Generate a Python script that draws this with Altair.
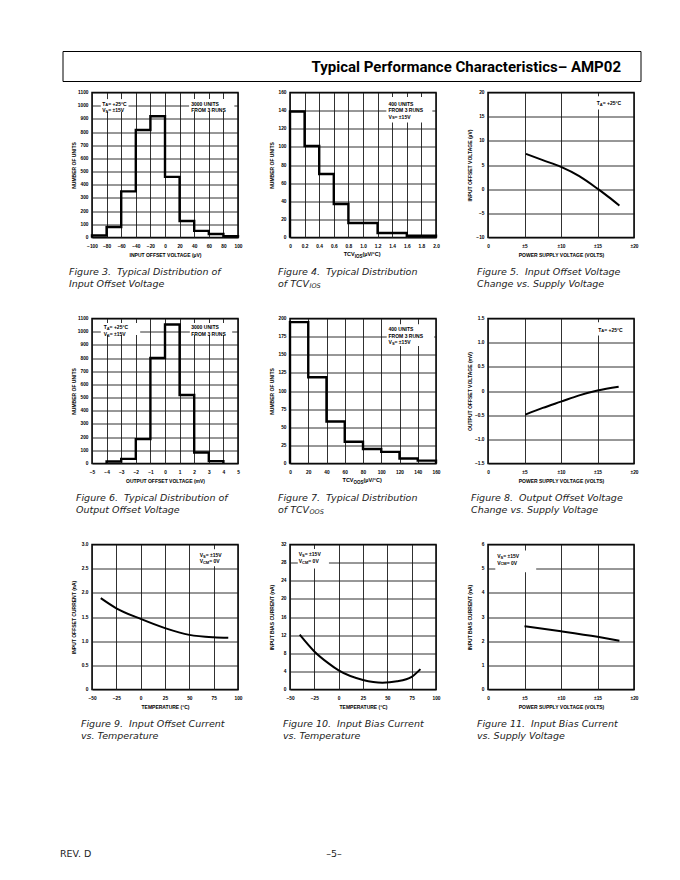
import altair as alt
import pandas as pd

# ---------------- data ----------------
# Figure 3: distribution of input offset voltage (uV)
f3_edges = [-100, -80, -60, -40, -20, 0, 20, 40, 60, 80, 100]
f3_counts = [15, 80, 350, 815, 920, 460, 125, 50, 27, 10]
f3_xticks = [-100, -80, -60, -40, -20, 0, 20, 40, 60, 80, 100]
f3_yticks = [0, 100, 200, 300, 400, 500, 600, 700, 800, 900, 1000, 1100]
# Figure 4: distribution of TCVIOS (uV/C)
f4_edges = [0, 0.2, 0.4, 0.6, 0.8, 1.2, 1.6, 2.0]
f4_counts = [139, 101, 70, 37, 16, 5, 2]
f4_xticks = [0, 0.2, 0.4, 0.6, 0.8, 1.0, 1.2, 1.4, 1.6, 1.8, 2.0]
f4_yticks = [0, 20, 40, 60, 80, 100, 120, 140, 160]
# Figure 5: input offset voltage vs supply
f5_x = [5.2, 7.5, 10, 12.5, 15, 16.5, 18]
f5_y = [7.3, 6.0, 4.6, 2.7, 0.1, -1.6, -3.4]
f5_xticks = [0, 5, 10, 15, 20]
f5_yticks = [-10, -5, 0, 5, 10, 15, 20]
# Figure 6: distribution of output offset voltage (mV)
f6_edges = [-4, -3, -2, -1, 0, 1, 2, 3, 4]
f6_counts = [15, 35, 185, 800, 1054, 520, 84, 18]
f6_xticks = [-5, -4, -3, -2, -1, 0, 1, 2, 3, 4, 5]
f6_yticks = [0, 100, 200, 300, 400, 500, 600, 700, 800, 900, 1000, 1100]
# Figure 7: distribution of TCVOOS (uV/C)
f7_edges = [0, 20, 40, 60, 80, 100, 120, 140, 160]
f7_counts = [195, 119, 58, 30, 20, 16, 7, 4]
f7_xticks = [0, 20, 40, 60, 80, 100, 120, 140, 160]
f7_yticks = [0, 25, 50, 75, 100, 125, 150, 175, 200]
# Figure 8: output offset voltage vs supply
f8_x = [5.1, 7.5, 10, 12.5, 15, 17.9]
f8_y = [-0.49, -0.35, -0.22, -0.09, 0.01, 0.09]
f8_xticks = [0, 5, 10, 15, 20]
f8_yticks = [-1.5, -1.0, -0.5, 0, 0.5, 1.0, 1.5]
# Figure 9: input offset current vs temperature
f9_x = [-41, -25, 0, 25, 50, 75, 90]
f9_y = [1.89, 1.68, 1.46, 1.27, 1.13, 1.08, 1.07]
f9_xticks = [-50, -25, 0, 25, 50, 75, 100]
f9_yticks = [0, 0.5, 1.0, 1.5, 2.0, 2.5, 3.0]
# Figure 10: input bias current vs temperature
f10_x = [-40, -25, -10, 0, 25, 45, 60, 75, 84]
f10_y = [12.1, 8.4, 5.7, 4.2, 2.1, 1.5, 1.8, 2.8, 4.5]
f10_xticks = [-50, -25, 0, 25, 50, 75, 100]
f10_yticks = [0, 4, 8, 12, 16, 20, 24, 28, 32]
# Figure 11: input bias current vs supply
f11_x = [5, 10, 15, 18]
f11_y = [2.62, 2.41, 2.18, 2.02]
f11_xticks = [0, 5, 10, 15, 20]
f11_yticks = [0, 1, 2, 3, 4, 5, 6]

# ---------------- style ----------------
W, H = 146, 145
F = "Liberation Sans, Arial, Helvetica, sans-serif"
CF = "DejaVu Sans, sans-serif"
NB = "\u00a0"
ONE = pd.DataFrame({"k": [0]})

CW = {c: 0.722 for c in "ABCDGHKNORUW"}
CW.update({c: 0.667 for c in "EPSVXY"})
CW.update({"T": 0.611, "F": 0.611, "L": 0.611, "Z": 0.611, "I": 0.278, "J": 0.556,
           "M": 0.833, "Q": 0.778, "O": 0.778})
CW.update({d: 0.556 for d in "0123456789"})
CW.update({" ": 0.278, NB: 0.278, "=": 0.584, "+": 0.584, "±": 0.549, "°": 0.4, "(": 0.333,
           ")": 0.333, "/": 0.278, "µ": 0.611, ".": 0.278})


def nb(s):
    return s.replace(" ", NB)


def tw(s, size):
    return sum(CW.get(c, 0.556) for c in s) * size


def step_df(edges, counts):
    xs = [edges[0]] + list(edges[:-1]) + [edges[-1], edges[-1]]
    ys = [0] + list(counts) + [counts[-1], 0]
    return pd.DataFrame({"x": xs, "y": ys, "i": list(range(len(xs)))})


def curve_df(xs, ys):
    return pd.DataFrame({"x": xs, "y": ys, "i": list(range(len(xs)))})


def vtext(t, x, y, **kw):
    return alt.Chart(ONE).mark_text(text=t, **kw).encode(x=alt.value(x), y=alt.value(y))


def caption(x, l1, l2, sub=None):
    st = dict(align="left", baseline="top", font=CF, fontSize=9.5, fontStyle="italic", color="#222")
    out = [vtext(l1.replace("  ", " " + NB), x, 174, **st), vtext(l2, x, 186.5, **st)]
    if sub:
        out.append(vtext(sub[0], x + sub[1], 190.5, align="left", baseline="top", font=CF,
                         fontSize=6.5, fontStyle="italic", color="#222"))
    return out


def sub_title(main, sub, rest):
    st = dict(baseline="top", font=F, fontWeight="bold", color="black")
    rest = nb(rest)
    total = tw(main, 5.5) + tw(sub, 4.5) + tw(rest, 5.5)
    x0 = W / 2 - total / 2
    return [
        vtext(main, x0, H + 14.5, align="left", fontSize=5.5, **st),
        vtext(sub, x0 + tw(main, 5.5), H + 16, align="left", fontSize=4.5, **st),
        vtext(rest, x0 + tw(main, 5.5) + tw(sub, 4.5), H + 14.5, align="left", fontSize=5.5, **st),
    ]


def panel(df, kind, xd, xt, yd, yt, xtitle, ytitle, xexpr=None, yexpr=None,
          boxes=(), notes=(), extra=()):
    xs = alt.Scale(domain=xd, nice=False, zero=False)
    ys = alt.Scale(domain=yd, nice=False, zero=False)
    xa = dict(values=xt, title=xtitle)
    if xexpr:
        xa["labelExpr"] = xexpr
    else:
        xa["format"] = "d"
    ya = dict(values=yt, title=ytitle)
    if yexpr:
        ya["labelExpr"] = yexpr
    else:
        ya["format"] = "d"
    xax = alt.Axis(**xa)
    yax = alt.Axis(**ya)
    if kind == "step":
        mk = alt.Chart(df).mark_line(interpolate="step-after", color="black", strokeWidth=2.4)
    else:
        mk = alt.Chart(df).mark_line(interpolate="monotone", color="black", strokeWidth=2)
    main = mk.encode(
        x=alt.X("x:Q", scale=xs, axis=xax),
        y=alt.Y("y:Q", scale=ys, axis=yax),
        order="i:Q",
    )
    layers = [main]
    for (x1, x2, y1, y2) in boxes:
        layers.append(alt.Chart(ONE).mark_rect(fill="white").encode(
            x=alt.XDatum(x1, scale=xs, axis=xax), x2=alt.X2Datum(x2),
            y=alt.YDatum(y1, scale=ys, axis=yax), y2=alt.Y2Datum(y2)))
    for (x, y, lines) in notes:
        for li, segs in enumerate(lines):
            off = 0
            for t, sb in segs:
                t = nb(t)
                fs = 4.0 if sb else 5.0
                layers.append(alt.Chart(ONE).mark_text(
                    text=t, align="left", baseline="top", dx=off,
                    dy=li * 6.5 + (1.8 if sb else 0), font=F, fontSize=fs,
                    fontWeight="bold", color="black").encode(
                    x=alt.XDatum(x, scale=xs, axis=xax),
                    y=alt.YDatum(y, scale=ys, axis=yax)))
                off += tw(t, fs)
    layers += list(extra)
    return alt.layer(*layers).properties(width=W, height=H)


TA = [("T", 0), ("A", 1), (" = +25°C", 0)]
VS = [("V", 0), ("S", 1), (" = ±15V", 0)]
VCM = [("V", 0), ("CM", 1), (" = 0V", 0)]
PM = "datum.value == 0 ? '0' : '±' + datum.value"
ONED = "datum.value == 0 ? '0' : format(datum.value, '.1f')"

title_layers = [
    alt.Chart(ONE).mark_rect(fill="white", fillOpacity=0, stroke="black", strokeWidth=1).encode(
        x=alt.value(-29), x2=alt.value(549), y=alt.value(-41), y2=alt.value(-11)),
    vtext("Typical Performance Characteristics\u2013 AMP02", 529, -25.5, align="right",
          baseline="middle", font="Roboto", fontSize=15, fontWeight="bold", color="black"),
]

p3 = panel(step_df(f3_edges, f3_counts), "step", [-100, 100], f3_xticks, [0, 1100], f3_yticks,
           "INPUT OFFSET VOLTAGE (µV)", "NUMBER OF UNITS",
           boxes=[(-88, -50, 955, 1050), (33, 95, 955, 1050)],
           notes=[(-86, 1031, [TA, VS]), (36, 1031, [[("3000 UNITS", 0)], [("FROM 3 RUNS", 0)]])],
           extra=title_layers + caption(-23, "Figure 3.  Typical Distribution of", "Input Offset Voltage"))

p4 = panel(step_df(f4_edges, f4_counts), "step", [0, 2.0], f4_xticks, [0, 160], f4_yticks,
           "", "NUMBER OF UNITS", xexpr=ONED,
           boxes=[(1.32, 1.95, 127, 155)],
           notes=[(1.35, 150, [[("400 UNITS", 0)], [("FROM 3 RUNS", 0)], VS])],
           extra=sub_title("TCV", "IOS", " (µV/°C)") +
           caption(-12, "Figure 4.  Typical Distribution", "of TCV", sub=("IOS", 31.5)))

p5 = panel(curve_df(f5_x, f5_y), "curve", [0, 20], f5_xticks, [-10, 20], f5_yticks,
           "POWER SUPPLY VOLTAGE (VOLTS)", "INPUT OFFSET VOLTAGE (µV)", xexpr=PM,
           boxes=[(14.7, 19.5, 16.5, 19.2)],
           notes=[(14.9, 18.3, [TA])],
           extra=caption(-11, "Figure 5.  Input Offset Voltage", "Change vs. Supply Voltage"))

p6 = panel(step_df(f6_edges, f6_counts), "step", [-5, 5], f6_xticks, [0, 1100], f6_yticks,
           "OUTPUT OFFSET VOLTAGE (mV)", "NUMBER OF UNITS",
           boxes=[(-4.4, -1.7, 975, 1065), (1.7, 4.6, 975, 1065)],
           notes=[(-4.2, 1047, [TA, VS]), (1.8, 1047, [[("3000 UNITS", 0)], [("FROM 3 RUNS", 0)]])],
           extra=caption(-16, "Figure 6.  Typical Distribution of", "Output Offset Voltage"))

p7 = panel(step_df(f7_edges, f7_counts), "step", [0, 160], f7_xticks, [0, 200], f7_yticks,
           "", "NUMBER OF UNITS",
           boxes=[(106, 158, 162, 192)],
           notes=[(108, 188, [[("400 UNITS", 0)], [("FROM 3 RUNS", 0)], VS])],
           extra=sub_title("TCV", "OOS", " (µV/°C)") +
           caption(-12, "Figure 7.  Typical Distribution", "of TCV", sub=("OOS", 31.5)))

p8 = panel(curve_df(f8_x, f8_y), "curve", [0, 20], f8_xticks, [-1.5, 1.5], f8_yticks,
           "POWER SUPPLY VOLTAGE (VOLTS)", "OUTPUT OFFSET VOLTAGE (mV)", xexpr=PM, yexpr=ONED,
           boxes=[(14.9, 19.6, 1.15, 1.42)],
           notes=[(15.1, 1.31, [TA])],
           extra=caption(-17, "Figure 8.  Output Offset Voltage", "Change vs. Supply Voltage"))

p9 = panel(curve_df(f9_x, f9_y), "curve", [-50, 100], f9_xticks, [0, 3.0], f9_yticks,
           "TEMPERATURE (°C)", "INPUT OFFSET CURRENT (nA)", yexpr=ONED,
           boxes=[(59, 92, 2.55, 2.9)],
           notes=[(60.6, 2.83, [VS, VCM])],
           extra=caption(-11, "Figure 9.  Input Offset Current", "vs. Temperature") + [
               vtext("REV. D", -32, 309, align="left", baseline="middle", font="DejaVu Sans",
                     fontSize=9.5, color="#222"),
               vtext("\u20135\u2013", 242, 309, align="center", baseline="middle", font="DejaVu Sans",
                     fontSize=9.5, color="#222"),
           ])

p10 = panel(curve_df(f10_x, f10_y), "curve", [-50, 100], f10_xticks, [0, 32], f10_yticks,
            "TEMPERATURE (°C)", "INPUT BIAS CURRENT (nA)",
            boxes=[(-42, -10, 26.7, 31)],
            notes=[(-41, 30.3, [VS, VCM])],
            extra=caption(-7, "Figure 10.  Input Bias Current", "vs. Temperature"))

p11 = panel(curve_df(f11_x, f11_y), "curve", [0, 20], f11_xticks, [0, 6], f11_yticks,
            "POWER SUPPLY VOLTAGE (VOLTS)", "INPUT BIAS CURRENT (nA)", xexpr=PM,
            boxes=[(1, 6.6, 4.85, 5.75)],
            notes=[(1.25, 5.6, [VS, VCM])],
            extra=caption(-11, "Figure 11.  Input Bias Current", "vs. Supply Voltage"))

chart = alt.concat(
    p3, p4, p5, p6, p7, p8, p9, p10, p11,
    columns=3, spacing={"row": 81, "column": 52}, bounds="flush",
).properties(
    padding={"left": 51, "top": 41.5, "right": 5, "bottom": 5},
    background="white",
).configure_view(
    stroke="black", strokeWidth=1.5
).configure_axis(
    domain=False, ticks=False, tickSize=0, grid=True, gridColor="#1a1a1a", gridWidth=0.9,
    gridOpacity=1, labelFont=F, labelFontSize=4.8, labelFontWeight="bold", labelColor="black",
    titleFont=F, titleFontSize=5, titleFontWeight="bold", titleColor="black",
    labelOverlap=False, labelFlush=False, labelBound=False,
).configure_axisX(
    labelPadding=5.5, titleX=W / 2, titleY=14.5
).configure_axisY(
    labelPadding=4, titleX=-15.5, titleY=H / 2
)

chart.save("out.html", embed_options={"renderer": "svg", "actions": False})
